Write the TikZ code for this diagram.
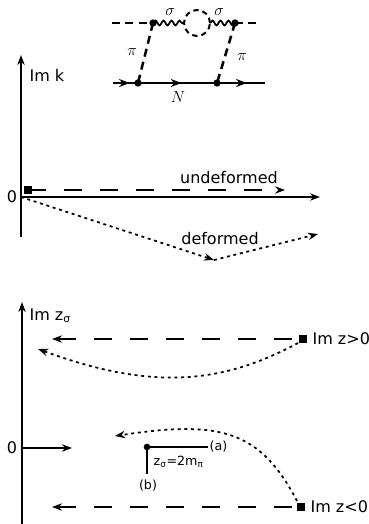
\documentclass[tikz,border=0pt]{standalone}
\usepackage{fontspec}
\setmainfont{DejaVu Sans}
\usetikzlibrary{arrows.meta,decorations.pathmorphing,decorations.markings}
\tikzset{
  axis/.style={line width=1.6pt},
  tip/.style={-{Stealth[length=7.5pt,width=5.5pt]}},
  rtip/.style={{Stealth[length=7.5pt,width=5.5pt]}-},
  longdash/.style={line width=1.6pt,dash pattern=on 13.5pt off 13.5pt},
  dotline/.style={line width=1.3pt,dash pattern=on 2.2pt off 2.8pt},
  fdash/.style={line width=1.9pt,dash pattern=on 6pt off 4pt},
  loopdash/.style={line width=1.5pt,dash pattern=on 4pt off 3pt},
  wavy/.style={line width=1.3pt,decorate,decoration={snake,amplitude=1.8pt,segment length=6pt}},
  nline/.style={line width=1.9pt,postaction={decorate},decoration={markings,
     mark=at position 0.11 with {\arrow{Stealth[length=8pt,width=6pt]}},
     mark=at position 0.45 with {\arrow{Stealth[length=8pt,width=6pt]}},
     mark=at position 0.88 with {\arrow{Stealth[length=8pt,width=6pt]}}}},
  vtx/.style={circle,fill=black,inner sep=0pt,minimum size=5.5pt},
  sqr/.style={rectangle,fill=black,inner sep=0pt,minimum size=6pt},
  lbl/.style={font=\fontsize{12}{14}\selectfont,inner sep=1pt},
  slbl/.style={font=\fontsize{9.5}{11}\selectfont,inner sep=1pt},
  mlbl/.style={font=\fontsize{11.5}{13}\selectfont,inner sep=1pt},
}
\begin{document}
\begin{tikzpicture}[x=0.75pt,y=-0.75pt]
\useasboundingbox (0,0) rectangle (368,524);
% ---------- Feynman diagram ----------
\coordinate (tl) at (112,23);
\coordinate (tr) at (260,23);
\coordinate (cl) at (184,23);
\coordinate (cr) at (210,23);
\coordinate (cc) at (197,23);
\coordinate (nl) at (113,83);
\coordinate (nr) at (265,83);
\node[vtx] (v1) at (153,23) {};
\node[vtx] (v2) at (235,23) {};
\node[vtx] (w1) at (138,83) {};
\node[vtx] (w2) at (217,83) {};
\draw[fdash] (tl) -- (v1.center);
\draw[fdash] (v2.center) -- (tr);
\draw[wavy] (v1.center) -- (cl);
\draw[wavy] (cr) -- (v2.center);
\draw[loopdash] (cc) circle[radius=9.75pt];
\draw[fdash] (v1.center) -- (w1.center);
\draw[fdash] (v2.center) -- (w2.center);
\draw[nline] (nl) -- (nr);
\node[mlbl] (s1) at (170,12) {$\sigma$};
\node[mlbl] (s2) at (219,12) {$\sigma$};
\node[mlbl] (p1) at (132,52) {$\pi$};
\node[mlbl] (p2) at (242,57) {$\pi$};
\node[mlbl] (nn) at (178,97) {$N$};
% ---------- top plot ----------
\coordinate (o1) at (21,197);
\coordinate (ybot1) at (21,237);
\coordinate (ytop1) at (21,55);
\coordinate (xend1) at (320,197);
\draw[axis] (ybot1) -- (o1);
\draw[axis,tip] (o1) -- (ytop1);
\draw[axis,tip] (o1) -- (xend1);
\node[lbl,anchor=west] (imk) at (28,75) {Im k};
\node[lbl] (zero1) at (12,197) {0};
\node[sqr] (sq1) at (28,190) {};
\coordinate (ue) at (285,190);
\draw[longdash,tip] (sq1.center) -- (ue);
\node[lbl] (und) at (229,178) {undeformed};
\coordinate (dv) at (214,260);
\coordinate (de) at (318,234);
\draw[dotline,tip] (o1) -- (dv);
\draw[dotline,tip] (dv) -- (de);
\node[lbl] (def) at (220,239) {deformed};
% ---------- bottom plot ----------
\coordinate (ybot2) at (22,524);
\coordinate (ytop2) at (22,302);
\draw[axis,tip] (ybot2) -- (ytop2);
\node[lbl,anchor=west] (imz) at (28,316) {Im z\textsubscript{σ}};
\node[sqr] (sq2) at (303,339) {};
\node[sqr] (sq3) at (301,507) {};
\coordinate (a2) at (52,339);
\coordinate (a3) at (52,507);
\draw[longdash,rtip] (a2) -- (sq2.center);
\draw[longdash,rtip] (a3) -- (sq3.center);
\node[lbl,anchor=west] (gt) at (311,339) {Im z>0};
\node[lbl,anchor=west] (lt) at (309,507) {Im z<0};
\coordinate (c2s) at (298,343);
\coordinate (c2e) at (38,349);
\draw[dotline,tip] (c2s) .. controls (220,385) and (150,390) .. (c2e);
\coordinate (c3s) at (297,501);
\coordinate (c3e) at (115,436);
\draw[dotline,tip] (c3s) .. controls (260,430) and (220,420) .. (c3e);
\coordinate (o2) at (22,448);
\coordinate (x2) at (72,448);
\draw[axis,tip] (o2) -- (x2);
\node[lbl] (zero2) at (12,448) {0};
\node[circle,fill=black,inner sep=0pt,minimum size=5pt] (bp) at (147,447) {};
\coordinate (ba) at (208,447);
\coordinate (bb) at (147,474);
\draw[line width=1.2pt] (bp.center) -- (ba);
\draw[line width=1.2pt] (bp.center) -- (bb);
\node[slbl,anchor=west] (la) at (ba) {(a)};
\node[slbl] (lb) at (148,486) {(b)};
\node[slbl,anchor=west] (zs) at (152,462) {z\textsubscript{σ}=2m\textsubscript{π}};
\end{tikzpicture}
\end{document}
